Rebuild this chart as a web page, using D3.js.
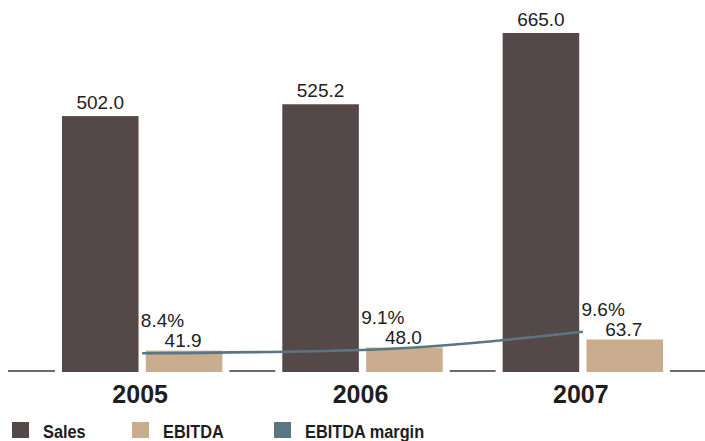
<!DOCTYPE html>
<html>
<head>
<meta charset="utf-8">
<script src="https://cdn.jsdelivr.net/npm/d3@7/dist/d3.min.js"></script>
<style>
  html, body { margin: 0; padding: 0; background: #fff; }
  svg { display: block; }
</style>
</head>
<body>
<svg id="chart" width="705" height="441"></svg>
<script>
const years = ['2005', '2006', '2007'];
const sales = [502.0, 525.2, 665.0];
const ebitda = [41.9, 48.0, 63.7];
const margin = [8.4, 9.1, 9.6];
const marginLabels = ['8.4%', '9.1%', '9.6%'];
const seriesNames = ['Sales', 'EBITDA', 'EBITDA margin'];
const colors = { 'Sales': '#554849', 'EBITDA': '#caad8e', 'EBITDA margin': '#5b7683' };

const W = 705, H = 441;
const svg = d3.select('#chart');

const x0 = d3.scaleBand().domain(years).range([32, 693]).paddingInner(0.272).paddingOuter(0.136);
const x1 = d3.scaleBand().domain(['Sales', 'EBITDA']).range([0, x0.bandwidth()]).paddingInner(0.087);
const y = d3.scaleLinear().domain([0, 665]).range([372, 33]);
// secondary (margin) axis, piecewise as drawn in the original
const yM = d3.scaleLinear().domain([8.4, 9.1, 9.6]).range([353.3, 350, 331.7]);

const data = years.map((yr, i) => ({ year: yr, Sales: sales[i], EBITDA: ebitda[i], margin: margin[i], mLabel: marginLabels[i] }));

// baseline segments in the gaps between groups
const gap = 7;
const pts = [8];
years.forEach(yr => { pts.push(x0(yr) - gap); pts.push(x0(yr) + x0.bandwidth() + gap); });
pts.push(W);
const segs = [];
for (let i = 0; i < pts.length; i += 2) segs.push([pts[i], pts[i + 1]]);
svg.append('g').selectAll('line').data(segs).join('line')
  .attr('x1', d => d[0]).attr('x2', d => d[1])
  .attr('y1', y(0) - 1).attr('y2', y(0) - 1)
  .attr('stroke', '#3a3a3a').attr('stroke-width', 1.4);

// bars
const g = svg.append('g').selectAll('g').data(data).join('g')
  .attr('transform', d => `translate(${x0(d.year)},0)`);
g.selectAll('rect').data(d => ['Sales', 'EBITDA'].map(k => ({ key: k, value: d[k] }))).join('rect')
  .attr('x', d => x1(d.key)).attr('width', x1.bandwidth())
  .attr('y', d => y(d.value)).attr('height', d => y(0) - y(d.value))
  .attr('fill', d => colors[d.key]);

const fmt = d3.format('.1f');
const valFont = "'Liberation Sans', Arial, sans-serif";
// Sales labels
g.append('text')
  .attr('x', x1('Sales') + x1.bandwidth() / 2)
  .attr('y', d => y(d.Sales) - 7)
  .attr('text-anchor', 'middle')
  .attr('font-family', valFont).attr('font-size', 19).attr('fill', '#222')
  .text(d => fmt(d.Sales));
// EBITDA labels
g.append('text')
  .attr('x', x1('EBITDA') + x1.bandwidth() / 2 - 1)
  .attr('y', d => y(d.EBITDA) - 4)
  .attr('text-anchor', 'middle')
  .attr('font-family', valFont).attr('font-size', 19).attr('fill', '#222')
  .text(d => fmt(d.EBITDA));
// margin labels
g.append('text')
  .attr('x', x1('EBITDA') - 5)
  .attr('y', d => y(d.EBITDA) - 24)
  .attr('text-anchor', 'start')
  .attr('font-family', valFont).attr('font-size', 19).attr('fill', '#222')
  .text(d => d.mLabel);

// margin line
const line = d3.line()
  .x(d => x0(d.year) + x0.bandwidth() / 2)
  .y(d => yM(d.margin))
  .curve(d3.curveMonotoneX);
svg.append('path').datum(data)
  .attr('d', line)
  .attr('fill', 'none')
  .attr('stroke', colors['EBITDA margin'])
  .attr('stroke-width', 2.6);

// year labels
svg.append('g').selectAll('text').data(years).join('text')
  .attr('x', d => x0(d) + x0.bandwidth() / 2 - 2)
  .attr('y', 403)
  .attr('text-anchor', 'middle')
  .attr('font-family', "'Liberation Sans', Arial, sans-serif")
  .attr('font-weight', 'bold').attr('font-size', 25).attr('fill', '#1e1e1e')
  .text(d => d);

// legend
const legX = [12, 132, 274];
const leg = svg.append('g').selectAll('g').data(seriesNames).join('g')
  .attr('transform', (d, i) => `translate(${legX[i]},422)`);
leg.append('rect').attr('width', 17).attr('height', 16).attr('fill', d => colors[d]);
leg.append('text')
  .attr('transform', 'translate(31,16) scale(0.86,1)')
  .attr('font-family', "'Liberation Sans', Arial, sans-serif")
  .attr('font-weight', 'bold').attr('font-size', 19).attr('fill', '#1e1e1e')
  .text(d => d);
</script>
</body>
</html>
